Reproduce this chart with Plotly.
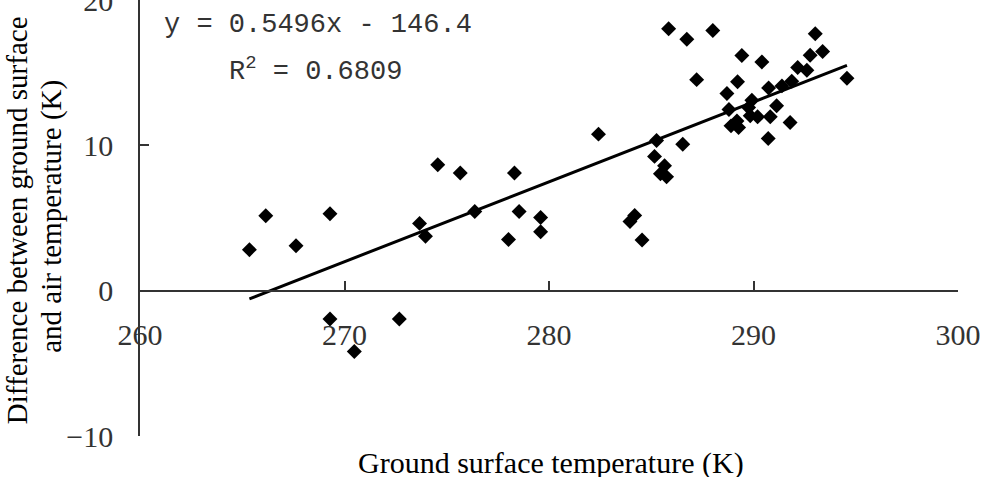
import numpy as np
import plotly.graph_objects as go

# Ground surface temperature (K)
ground_temp = [
    265.35, 266.15, 267.63, 269.29, 269.29, 270.48, 272.68, 273.67, 273.96, 274.56,
    275.66, 276.37, 278.02, 278.31, 278.54, 279.59, 279.59, 282.42, 283.96, 284.19,
    284.55, 285.26, 285.16, 285.65, 285.45, 285.75, 285.85, 286.54, 286.74, 287.22,
    288.01, 293.02, 293.38, 292.77, 289.43, 290.41, 292.16, 292.61, 294.57, 289.22,
    291.87, 291.39, 290.74, 288.70, 289.92, 289.76, 288.80, 291.13, 289.84, 290.20,
    290.82, 289.19, 288.90, 289.27, 291.79, 290.72,
]
# Difference between ground surface and air temperature (K)
temp_diff = [
    2.82, 5.15, 3.09, 5.29, -1.95, -4.18, -1.95, 4.63, 3.75, 8.66,
    8.10, 5.45, 3.52, 8.10, 5.45, 5.04, 4.05, 10.77, 4.76, 5.18,
    3.48, 10.33, 9.24, 8.60, 8.04, 7.83, 18.02, 10.08, 17.30, 14.52,
    17.90, 17.68, 16.45, 16.20, 16.18, 15.74, 15.35, 15.17, 14.62, 14.38,
    14.41, 14.09, 13.95, 13.56, 13.10, 12.60, 12.46, 12.72, 12.03, 11.96,
    11.96, 11.68, 11.34, 11.22, 11.57, 10.47,
]
slope = 0.5496
intercept = -146.4
r_squared = 0.6809

x_range = [260, 300]
y_range = [-10, 20]
x_ticks = [260, 270, 280, 290, 300]
y_ticks = [-10, 0, 10, 20]

x_title = "Ground surface temperature (K)"
y_title_lines = ["Difference between ground surface", "and air temperature (K)"]

x_line = np.array([min(ground_temp), max(ground_temp)])
y_line = slope * x_line + intercept

fig = go.Figure()
fig.add_trace(go.Scatter(
    x=ground_temp, y=temp_diff, mode="markers",
    marker=dict(symbol="diamond", size=11.5, color="black"),
    showlegend=False, hoverinfo="x+y",
))
fig.add_trace(go.Scatter(
    x=x_line, y=y_line, mode="lines",
    line=dict(color="black", width=3),
    showlegend=False, hoverinfo="skip",
))

zero_pos = (0 - y_range[0]) / (y_range[1] - y_range[0])
tick_font = dict(family="Liberation Serif", size=30, color="#333333")
eq_font = dict(family="Liberation Mono", size=27, color="#333333")
title_font = dict(family="Liberation Serif", size=29, color="black")

fig.update_layout(
    width=986, height=477,
    margin=dict(l=140, r=28, t=0, b=41, autoexpand=False),
    plot_bgcolor="white", paper_bgcolor="white",
    xaxis=dict(
        range=x_range, tickvals=x_ticks, ticktext=[str(v) for v in x_ticks],
        anchor="free", position=zero_pos, automargin=False,
        showline=True, linecolor="#333333", linewidth=1.5,
        ticks="inside", ticklen=9, tickwidth=1.5, tickcolor="#333333",
        showgrid=False, zeroline=False,
        tickfont=tick_font, ticklabelstandoff=18,
    ),
    yaxis=dict(
        range=y_range, tickvals=y_ticks, automargin=False,
        showline=True, linecolor="#333333", linewidth=1.5,
        ticks="inside", ticklen=9, tickwidth=1.5, tickcolor="#333333",
        showgrid=False, zeroline=False,
        tickfont=tick_font, ticklabelstandoff=19,
        ticklabeloverflow="allow",
    ),
    annotations=[
        dict(text=f"y = {slope}x - {abs(intercept)}", xref="paper", yref="paper",
             x=0.027, y=0.943, xanchor="left", yanchor="middle", showarrow=False,
             font=eq_font),
        dict(text=f"R<sup>2</sup> = {r_squared}", xref="paper", yref="paper",
             x=0.106, y=0.84, xanchor="left", yanchor="middle", showarrow=False,
             font=eq_font),
        dict(text=x_title, xref="paper", yref="paper",
             x=0.503, y=-0.062, xanchor="center", yanchor="middle", showarrow=False,
             font=dict(family="Liberation Serif", size=30, color="black")),
        dict(text=y_title_lines[0], xref="paper", yref="paper",
             x=-0.1504, y=0.495, xanchor="center", yanchor="middle", showarrow=False,
             textangle=-90, font=title_font),
        dict(text=y_title_lines[1], xref="paper", yref="paper",
             x=-0.1076, y=0.505, xanchor="center", yanchor="middle", showarrow=False,
             textangle=-90, font=title_font),
    ],
)

fig.write_html("out.html")
